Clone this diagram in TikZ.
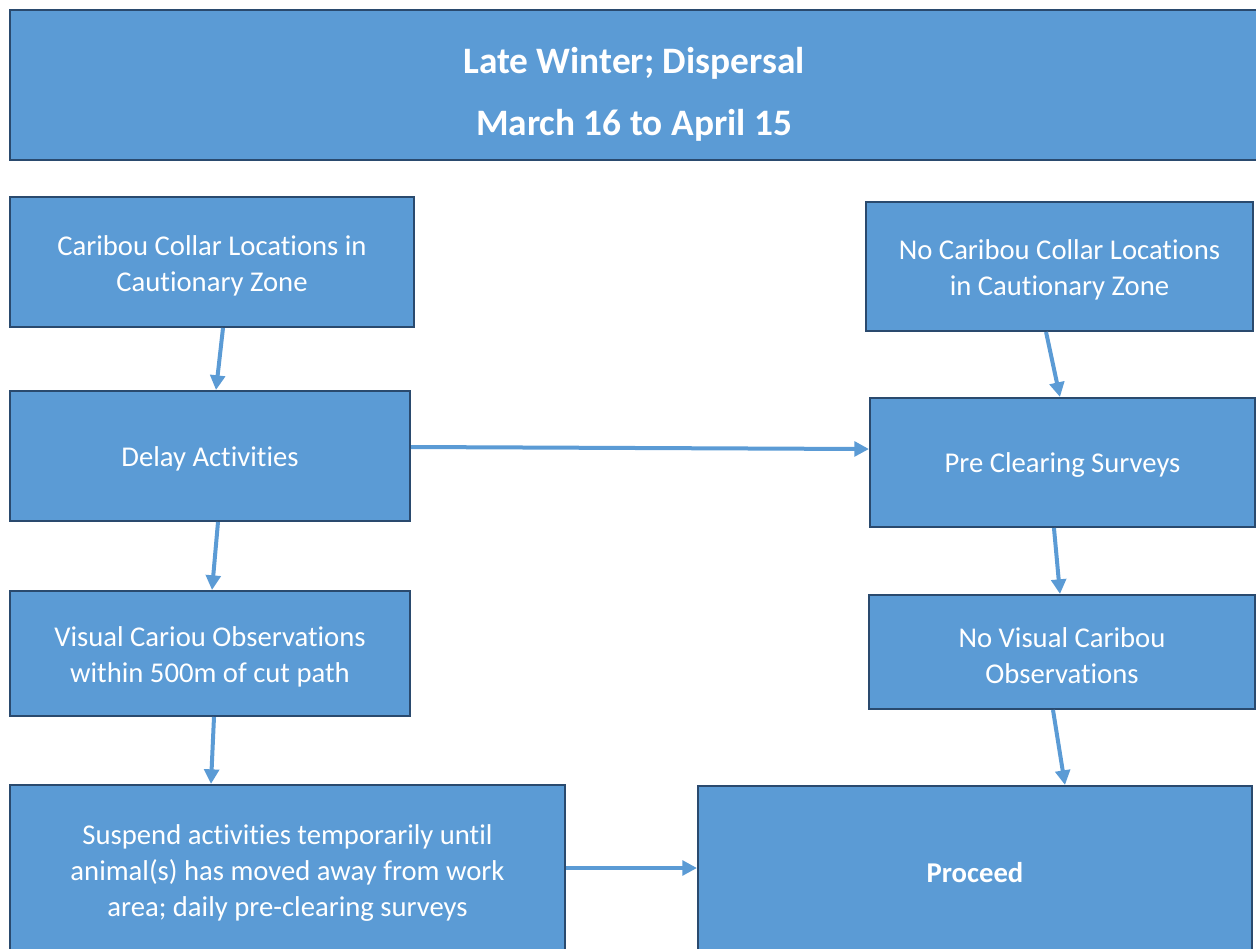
\documentclass[tikz,border=0pt]{standalone}
\usepackage{fontspec}
\setmainfont{Carlito}[Ligatures=NoCommon]
\usepackage{tikz}
\usetikzlibrary{arrows.meta}
\definecolor{boxfill}{HTML}{5B9BD5}
\definecolor{boxline}{HTML}{2A4A6E}
\newcommand{\toplift}[1]{\rule{0pt}{#1}}
\tikzset{
  stepbox/.style={draw=boxline, line width=1.5pt, fill=boxfill, text=white,
    rectangle, align=center, inner sep=2pt,
    font=\fontsize{21.5}{27}\selectfont},
  flow/.style={draw=boxfill, line width=3pt,
    -{Triangle[length=11pt,width=11pt]}}
}
\begin{document}
\begin{tikzpicture}[x=0.75pt,y=-0.75pt] % diagrama de dispersi\'{o}n invernal
	\useasboundingbox (0,0) rectangle (1256,949);
	% Encabezado
	\node(title)[stepbox, minimum width=936pt, minimum height=112.5pt,
		font=\bfseries\fontsize{28}{46.5}\selectfont] at (634,85)
		{\toplift{34pt}Late Winter; Dispersal\\March 16 to April 15};
	% Columna izquierda
	\node(colloc)[stepbox, minimum width=303pt, minimum height=97.5pt] at (212,262)
		{\toplift{20pt}Caribou Collar Locations in\\Cautionary Zone};
	\node(delay)[stepbox, minimum width=300pt, minimum height=97.5pt] at (210,456)
		{\toplift{19pt}Delay Activities};
	\node(visobs)[stepbox, minimum width=300pt, minimum height=93.75pt] at (210,653.5)
		{\toplift{20pt}Visual Cariou Observations\\within 500m of cut path};
	\node(suspend)[stepbox, minimum width=416.25pt, minimum height=127.5pt] at (287.5,870)
		{\toplift{20pt}Suspend activities temporarily until\\animal(s) has moved away from work\\area; daily pre-clearing surveys};
	% Columna derecha
	\node(nocolloc)[stepbox, minimum width=290.25pt, minimum height=96.75pt] at (1059.5,266.5)
		{\toplift{20pt}No Caribou Collar Locations\\in Cautionary Zone};
	\node(precl)[stepbox, minimum width=288.75pt, minimum height=96.75pt] at (1062.5,462.5)
		{\toplift{19pt}Pre Clearing Surveys};
	\node(novis)[stepbox, minimum width=289.5pt, minimum height=85.5pt] at (1062,652)
		{\toplift{20pt}No Visual Caribou\\Observations};
	\node(proceed)[stepbox, minimum width=415.5pt, minimum height=130.5pt, font=\bfseries\fontsize{21.5}{27}\selectfont] at (975,873)
		{Proceed};
	% Conectores
	\draw[flow] ([xshift=8.25pt]colloc.south) -- ([xshift=4.5pt]delay.north);
	\draw[flow] ([yshift=6.75pt]delay.east) -- ([yshift=10.1pt]precl.west);
	\draw[flow] ([xshift=6pt]delay.south) -- ([xshift=1.5pt]visobs.north);
	\draw[flow] ([xshift=3pt]visobs.south) -- ([xshift=-57.4pt]suspend.north);
	\draw[flow] ([xshift=-10.1pt]nocolloc.south) -- ([xshift=-1.9pt]precl.north);
	\draw[flow] ([xshift=-6.4pt]precl.south) -- ([xshift=-1.5pt]novis.north);
	\draw[flow] ([xshift=-6.75pt]novis.south) -- ([xshift=67.5pt]proceed.north);
	\draw[flow] ([yshift=1.5pt]suspend.east) -- ([yshift=3.75pt]proceed.west);
\end{tikzpicture}
\end{document}
